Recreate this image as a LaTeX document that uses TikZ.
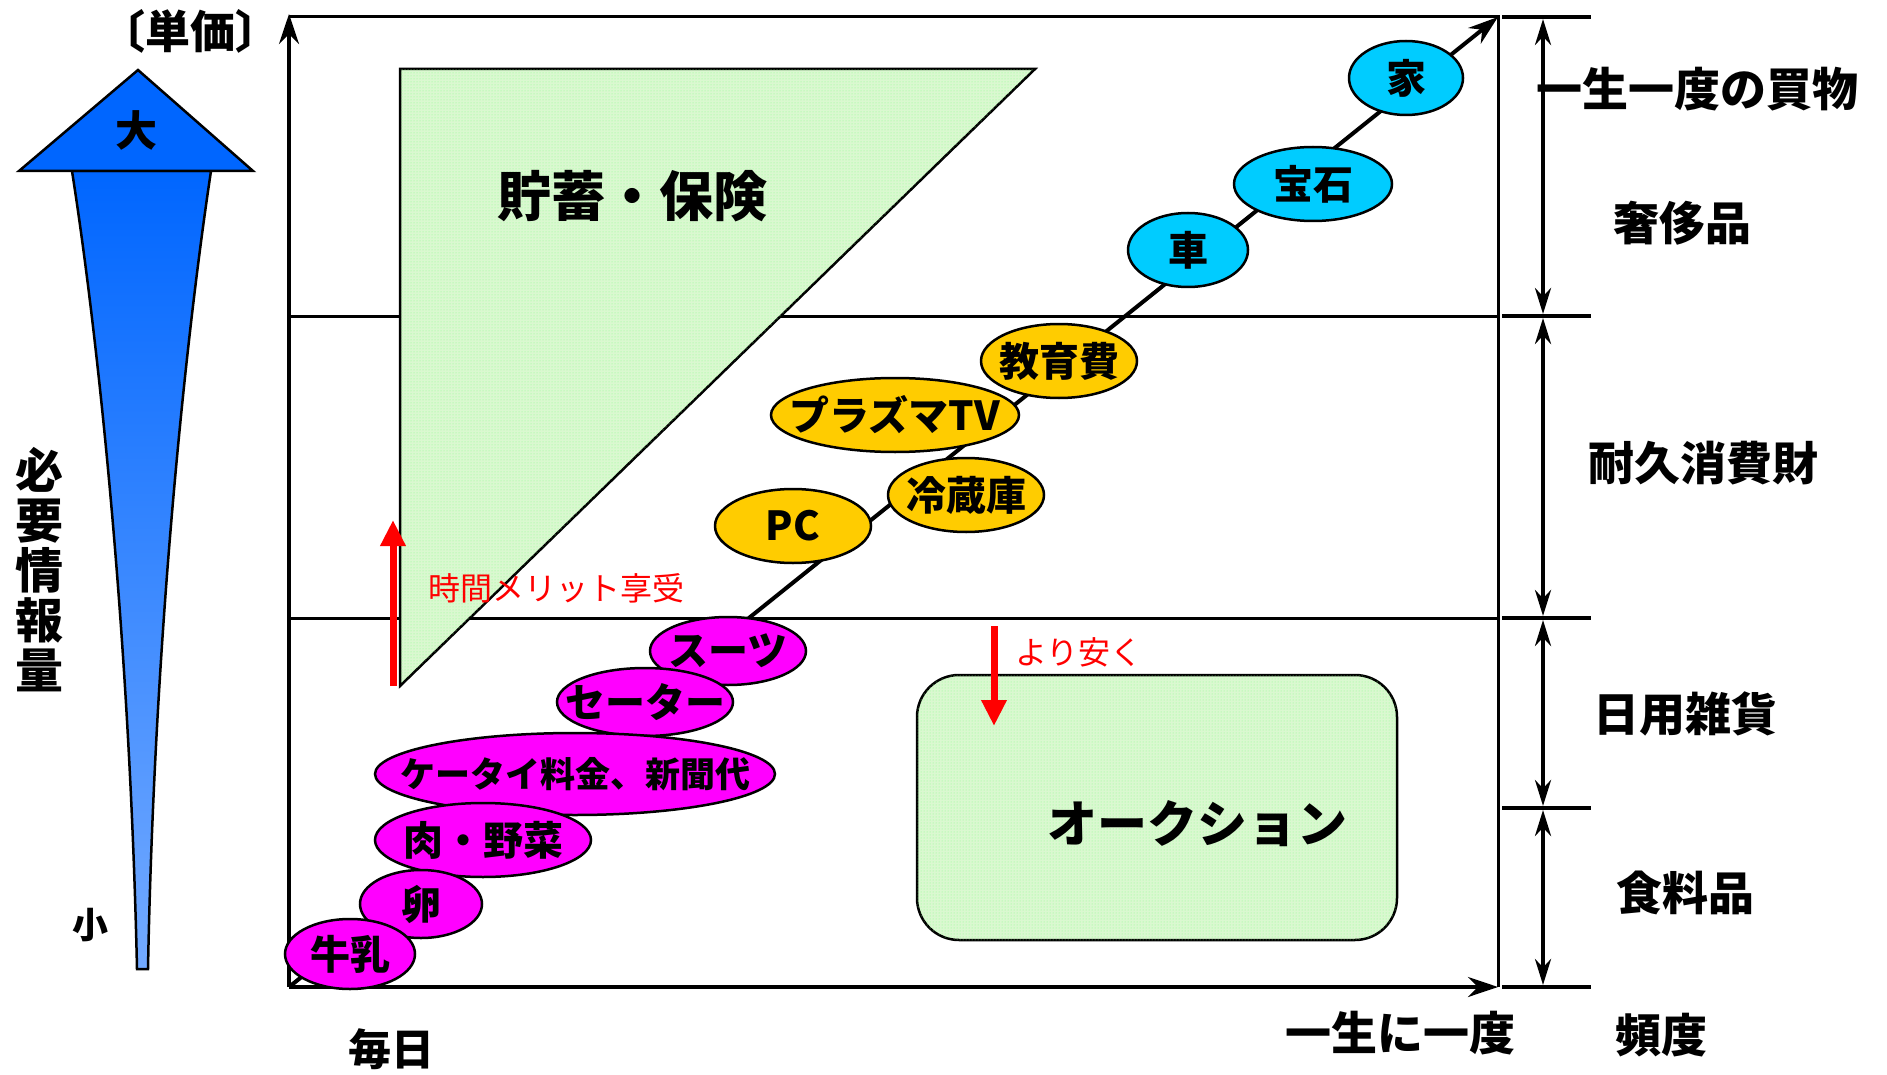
\documentclass[tikz,border=0pt]{standalone}
\usepackage{fontspec}
\setmainfont{Noto Sans CJK JP}
\usetikzlibrary{arrows.meta,shapes.geometric,patterns}
\definecolor{itemcyan}{RGB}{0,204,255}
\definecolor{itemgold}{RGB}{255,204,0}
\definecolor{itemmag}{RGB}{255,0,255}
\definecolor{zonegreen}{RGB}{218,248,208}
\definecolor{headblue}{RGB}{0,102,255}
\definecolor{tailblue}{RGB}{115,170,255}
\begin{document}
\begin{tikzpicture}[x=1pt, y=-1pt,
  item/.style={ellipse, draw, line width=2.5pt, inner xsep=-40pt, inner ysep=0pt, font=\fontsize{40}{40}\selectfont\bfseries},
  lbl/.style={font=\fontsize{46}{46}\selectfont\bfseries},
  rng/.style={{Stealth[length=26pt,width=16pt]}-{Stealth[length=26pt,width=16pt]}, line width=4pt},
  tick/.style={line width=4.5pt},
  zone/.style={draw, line width=2.5pt, fill=zonegreen, postaction={pattern=dots, pattern color=green!45}},
  redarr/.style={-{Triangle[length=26pt,width=24pt]}, red, line width=7pt},
  redlbl/.style={red, font=\fontsize{32}{32}\selectfont}]
\useasboundingbox (0,0) rectangle (1887,1075);
% frame and axes
\coordinate (O) at (289,987);
\coordinate (T) at (1498,17);
\draw[line width=3pt] (289,17) -- (T) -- (1498,987);
\draw[line width=3pt] (289,316) -- (1498,316);
\draw[line width=3pt] (289,618) -- (1498,618);
\draw[line width=4pt, -{Stealth[length=30pt,width=20pt]}] (O) -- (289,14);
\draw[line width=4pt, -{Stealth[length=30pt,width=20pt]}] (O) -- (1498,987);
% savings zone
\draw[zone] (400,69) -- (1035,69) -- (400,686) -- cycle;
\node[font=\fontsize{54}{54}\selectfont\bfseries] (save) at (632,196) {貯蓄・保険};
\draw[redarr] (393,686) -- (393,520);
\node[redlbl, anchor=west] (merit) at (425,588) {時間メリット享受};
% auction zone
\draw[zone, rounded corners=42pt] (917,675) rectangle (1397,940);
\node[font=\fontsize{50}{50}\selectfont\bfseries] (auction) at (1197,824) {オークション};
\draw[redarr] (994,626) -- (994,726);
\node[redlbl] (cheap) at (1079,652) {より安く};
% diagonal
\draw[line width=4pt, -{Stealth[length=30pt,width=20pt]}] (O) -- (T);
% items
\node[item, fill=itemcyan, minimum width=114pt, minimum height=74pt] (house) at (1406,78) {家};
\node[item, fill=itemcyan, minimum width=158pt, minimum height=74pt] (jewel) at (1313,184) {宝石};
\node[item, fill=itemcyan, minimum width=120pt, minimum height=74pt] (car) at (1188,250) {車};
\node[item, fill=itemgold, minimum width=156pt, minimum height=74pt] (school) at (1059,361) {教育費};
\node[item, fill=itemgold, minimum width=248pt, minimum height=74pt] (tv) at (895,415) {プラズマTV};
\node[item, fill=itemgold, minimum width=156pt, minimum height=74pt] (fridge) at (966,495) {冷蔵庫};
\node[item, fill=itemgold, minimum width=156pt, minimum height=74pt] (pc) at (793,526) {PC};
\node[item, fill=itemmag, minimum width=156pt, minimum height=68pt] (suit) at (728,651) {スーツ};
\node[item, fill=itemmag, minimum width=176pt, minimum height=68pt] (sweater) at (645,702) {セーター};
\node[item, fill=itemmag, minimum width=400pt, minimum height=82pt, font=\fontsize{35}{35}\selectfont\bfseries] (phone) at (575,774) {ケータイ料金、新聞代};
\node[item, fill=itemmag, minimum width=216pt, minimum height=74pt] (meat) at (483,840) {肉・野菜};
\node[item, fill=itemmag, minimum width=122pt, minimum height=68pt] (egg) at (421,904) {卵};
\node[item, fill=itemmag, minimum width=130pt, minimum height=70pt] (milk) at (350,954) {牛乳};
% right scale
\foreach \y in {17,316,618,808,987}
  \draw[tick] (1502,\y) -- (1591,\y);
\draw[rng] (1543,19) -- (1543,314);
\draw[rng] (1543,318) -- (1543,616);
\draw[rng] (1543,620) -- (1543,806);
\draw[rng] (1543,810) -- (1543,985);
\node[lbl] (once) at (1697,89) {一生一度の買物};
\node[lbl] (luxury) at (1682,223) {奢侈品};
\node[lbl] (durable) at (1703,463) {耐久消費財};
\node[lbl] (daily) at (1685,714) {日用雑貨};
\node[lbl] (food) at (1685,893) {食料品};
\node[lbl] (freq) at (1661,1035) {頻度};
\node[lbl] (lifetime) at (1400,1033) {一生に一度};
\node[lbl, font=\fontsize{43}{43}\selectfont\bfseries] (everyday) at (391,1049) {毎日};
\node[font=\fontsize{45}{45}\selectfont\bfseries] (price) at (190,31) {〔単価〕};
% information arrow
\shade[top color=headblue, bottom color=tailblue, draw, line width=2.5pt]
  (72,171) .. controls (100,350) and (130,650) .. (137,969) -- (148,969)
  .. controls (154,650) and (184,350) .. (211,171) -- cycle;
\draw[fill=headblue, line width=2.5pt] (19,171) -- (138,70) -- (253,171) -- cycle;
\node[font=\fontsize{42}{42}\selectfont\bfseries] (big) at (136,130) {大};
\node[font=\fontsize{36}{36}\selectfont\bfseries] (small) at (90,925) {小};
\node[font=\fontsize{48}{50}\selectfont\bfseries, align=center] (info) at (40,570) {必\\要\\情\\報\\量};
\end{tikzpicture}
\end{document}
